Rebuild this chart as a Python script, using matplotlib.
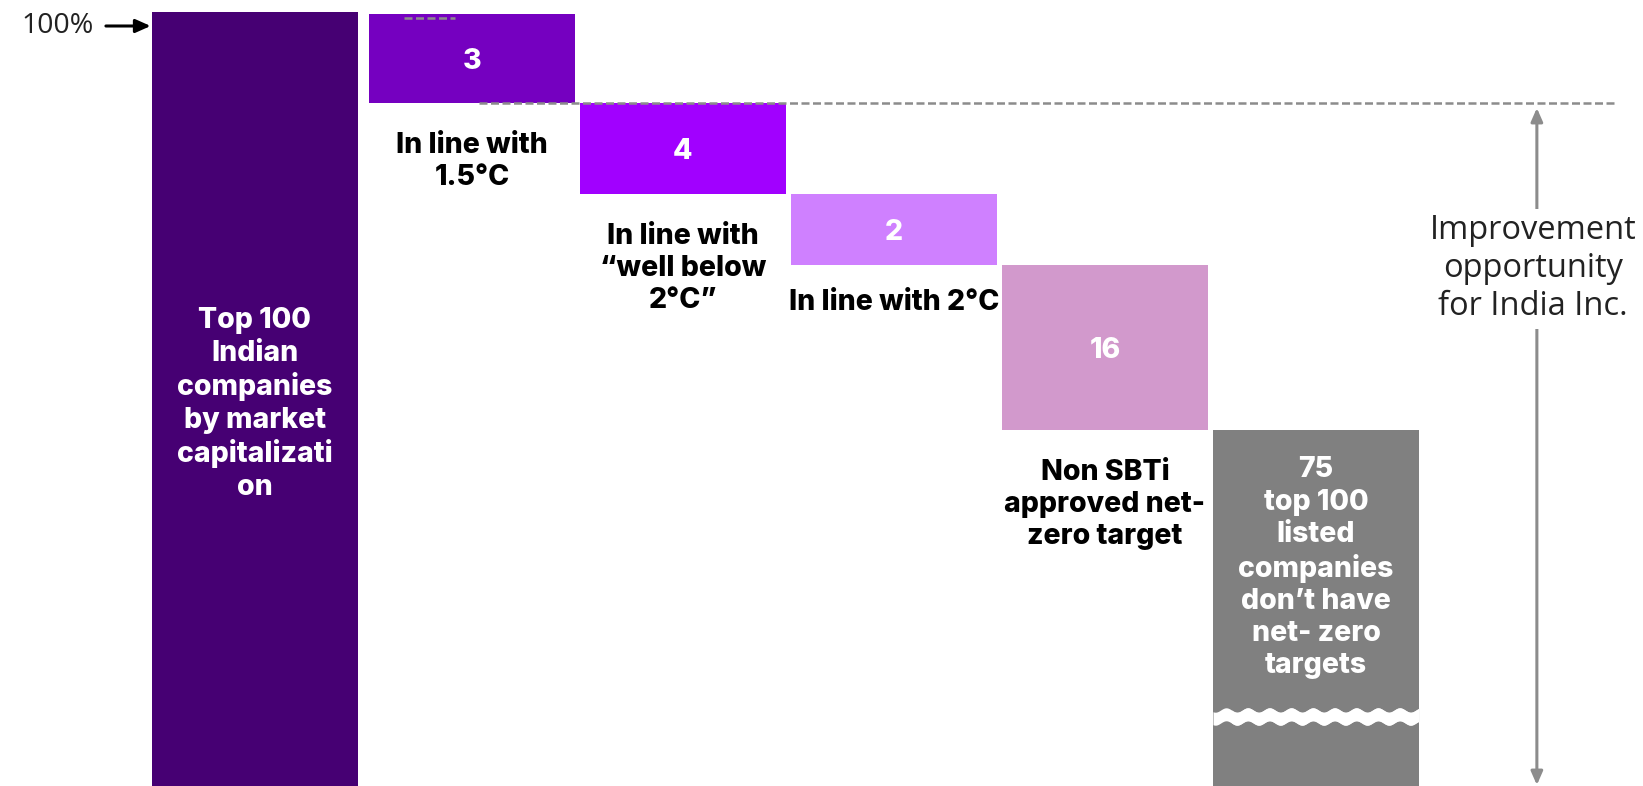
import matplotlib
matplotlib.use("Agg")
import matplotlib.pyplot as plt
import numpy as np

# waterfall steps (values shown on the bars)
values = [3, 4, 2, 16, 75]
step_labels = ["In line with\n1.5°C",
               "In line with\n“well below\n2°C”",
               "In line with 2°C",
               "Non SBTi\napproved net-\nzero target",
               None]
value_texts = ["3", "4", "2", "16",
               "75\ntop 100\nlisted\ncompanies\ndon’t have\nnet- zero\ntargets"]
first_label = "Top 100\nIndian\ncompanies\nby market\ncapitalizati\non"
# schematic (not to scale) drawn heights
drawn_heights = [89, 91, 71, 165, 400]
colors = ["#7500C0", "#A100FF", "#CF80FF", "#D299CC", "#808080"]
first_color = "#460073"

plt.rcParams['font.family'] = ['Inter', 'DejaVu Sans']
BOLD = dict(fontsize=20.5, fontweight='heavy', linespacing=1.25)

fig = plt.figure(figsize=(16.43, 7.86), dpi=100)
ax = fig.add_axes([0, 0, 1, 1])
ax.set_xlim(-1.237, 6.550)
ax.set_ylim(774, -12)
ax.axis('off')

w = 0.976
# first full bar
ax.bar(-0.03, 800, bottom=0, width=w, color=first_color, zorder=2)
ax.text(-0.03, 392, first_label, ha='center', va='center', color='white', zorder=4, **BOLD)

# falling steps
tops = 2 + np.concatenate([[0], np.cumsum(drawn_heights)[:-1]])
for i, (h, t, c) in enumerate(zip(drawn_heights, tops, colors)):
    x = i + 1
    ax.bar(x, h, bottom=t, width=w, color=c, zorder=2)
    if i < 4:
        ax.text(x, t + h / 2 + 3, value_texts[i], ha='center', va='center', color='white',
                zorder=4, **BOLD)
        off = 29 if '\n' in step_labels[i] else 24
        ax.text(x, t + h + off, step_labels[i], ha='center', va='top', color='black',
                zorder=4, **BOLD)
    else:
        ax.text(x, 556, value_texts[i], ha='center', va='center', color='white',
                zorder=4, **BOLD)

# wavy break in the last bar
xs = np.linspace(4.6, 5.49, 400)
wave = 2.2 * np.sin((xs - 4.6) * 211 / 21.7 * 2 * np.pi)
ax.fill_between(xs, 698 + wave, 711 + wave, color='#F3F3F3', zorder=3, lw=0)
xb = np.linspace(5 - w / 2, 5 + w / 2, 300)
waveb = 2.2 * np.sin((xb - 4.6) * 211 / 21.7 * 2 * np.pi)
ax.fill_between(xb, 698 + waveb, 711 + waveb, color='white', zorder=3, lw=0)

# dashed reference lines
ax.plot([1.033, 6.427], [91, 91], ls=(0, (3.2, 1.4)), color='#8C8C8C', lw=1.8, zorder=5)
ax.plot([0.678, 0.918], [6, 6], ls=(0, (3.2, 1.4)), color='#8C8C8C', lw=1.8, zorder=5)

# 100% marker
ax.annotate('', xy=(-0.523, 14), xytext=(-0.735, 14),
            arrowprops=dict(arrowstyle='-|>,head_length=0.9,head_width=0.4',
                            color='black', lw=2.2, shrinkA=0, shrinkB=0))
ax.text(-0.795, 14, "100%", ha='right', va='center', fontsize=20.5,
        color='#222222', family=['Open Sans', 'DejaVu Sans'])

# improvement arrow
ax.annotate('', xy=(6.047, 96), xytext=(6.047, 773),
            arrowprops=dict(arrowstyle='<|-|>,head_length=0.8,head_width=0.35',
                            color='#8C8C8C', lw=2.2, shrinkA=0, shrinkB=0))
ax.text(6.028, 257, "Improvement\nopportunity\nfor India Inc.", ha='center', va='center',
        fontsize=23.5, color='#222222', linespacing=1.2, family=['Open Sans', 'DejaVu Sans'],
        bbox=dict(facecolor='white', edgecolor='none', pad=4), zorder=6)

fig.savefig('out.png', dpi=100)
